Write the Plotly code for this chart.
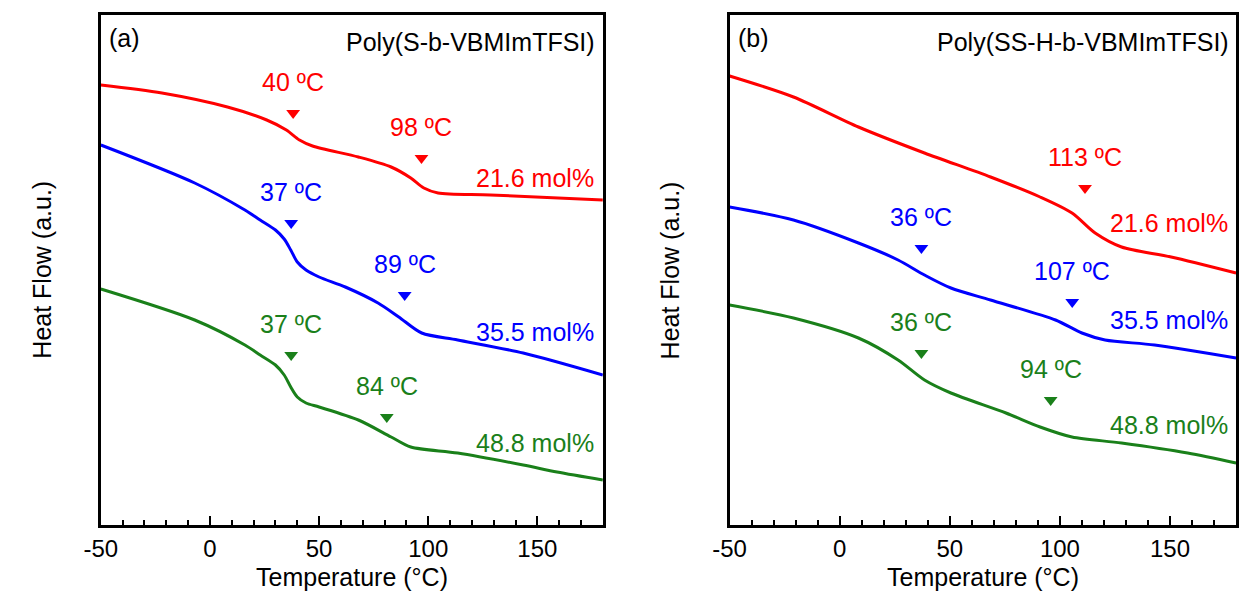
import plotly.graph_objects as go

# ---------------- data (Temperature in °C, heat flow in a.u.) ----------------
# Panel (a) Poly(S-b-VBMImTFSI)
a_red_T = [-50, -22, 8, 26, 35, 41, 47, 68, 83, 92, 98, 104.5, 128.5, 180]
a_red_H = [44.0, 43.2, 41.8, 40.5, 39.5, 38.5, 37.9, 36.8, 35.8, 34.7, 33.7, 33.2, 33.0, 32.5]
a_blue_T = [-50, -7, 16, 23, 30, 34, 37, 40, 44, 50, 62, 77, 86.5, 97, 113.5, 143.5, 180]
a_blue_H = [38.0, 34.2, 31.5, 30.5, 29.5, 28.6, 27.5, 26.3, 25.5, 24.8, 23.8, 22.2, 20.8, 19.2, 18.5, 17.2, 15.0]
a_green_T = [-50, -7, 16, 23, 30, 34, 37, 40, 44, 50, 68, 83, 92, 113.5, 143.5, 159, 180]
a_green_H = [23.6, 20.5, 18.0, 17.0, 16.0, 15.0, 13.8, 12.8, 12.2, 11.8, 10.5, 8.8, 7.8, 7.2, 6.0, 5.3, 4.5]

# Panel (b) Poly(SS-H-b-VBMImTFSI)
b_red_T = [-50, -21, 8.5, 38.5, 68.5, 91, 105.5, 116, 128, 150.5, 180]
b_red_H = [44.9, 42.8, 39.8, 37.2, 34.8, 32.8, 31.2, 29.2, 27.8, 26.8, 25.2]
b_blue_T = [-50, -21, 8.5, 26.5, 38.5, 50.5, 68.5, 98, 110, 120.5, 143, 180]
b_blue_H = [31.8, 30.5, 28.2, 26.5, 25.0, 23.7, 22.5, 20.5, 19.2, 18.5, 18.0, 16.7]
b_green_T = [-50, -21, 8.5, 26.5, 38.5, 50.5, 75.5, 91, 105.5, 128, 158, 180]
b_green_H = [22.0, 20.7, 18.7, 16.5, 14.5, 13.2, 11.2, 9.8, 8.8, 8.2, 7.2, 6.2]

# Transition markers: (position T, heat flow, label)
a_red_tr = [(38.1, 41.2, "40 ºC"), (96.9, 36.7, "98 ºC")]
a_blue_tr = [(37.2, 30.2, "37 ºC"), (89.2, 23.0, "89 ºC")]
a_green_tr = [(37.2, 17.0, "37 ºC"), (81.0, 10.8, "84 ºC")]
b_red_tr = [(111.4, 33.7, "113 ºC")]
b_blue_tr = [(37.1, 27.7, "36 ºC"), (105.6, 22.3, "107 ºC")]
b_green_tr = [(37.1, 17.2, "36 ºC"), (95.8, 12.5, "94 ºC")]

series_labels = ["21.6 mol%", "35.5 mol%", "48.8 mol%"]
a_label_H = [34.7, 19.3, 8.2]
b_label_H = [30.2, 20.5, 10.0]

panel_titles = ["Poly(S-b-VBMImTFSI)", "Poly(SS-H-b-VBMImTFSI)"]
panel_tags = ["(a)", "(b)"]

RED, BLUE, GREEN = "#FF0000", "#0000FF", "#1A801A"
FONT = "Liberation Sans, Arial, sans-serif"
W, H = 1241, 591

fig = go.Figure()

panels = [
    ("x", "y", [(a_red_T, a_red_H, RED, a_red_tr), (a_blue_T, a_blue_H, BLUE, a_blue_tr),
                (a_green_T, a_green_H, GREEN, a_green_tr)], a_label_H, 176.8),
    ("x2", "y2", [(b_red_T, b_red_H, RED, b_red_tr), (b_blue_T, b_blue_H, BLUE, b_blue_tr),
                  (b_green_T, b_green_H, GREEN, b_green_tr)], b_label_H, 177.3),
]

annotations = []
for pi, (xa, ya, curves, lab_H, lab_x) in enumerate(panels):
    for ci, (T, Hf, col, trs) in enumerate(curves):
        fig.add_trace(go.Scatter(x=T, y=Hf, xaxis=xa, yaxis=ya, mode="lines",
                                 line=dict(color=col, width=3, shape="spline", smoothing=0.8),
                                 showlegend=False, hoverinfo="skip"))
        fig.add_trace(go.Scatter(x=[t[0] for t in trs], y=[t[1] for t in trs], xaxis=xa, yaxis=ya,
                                 mode="markers",
                                 marker=dict(symbol="triangle-down", size=12, color=col),
                                 showlegend=False, hoverinfo="skip"))
        for (tx, ty, tl) in trs:
            annotations.append(dict(x=tx, y=ty, xref=xa, yref=ya, text=tl, showarrow=False,
                                    yshift=31, xanchor="center", yanchor="middle",
                                    font=dict(family=FONT, size=25, color=col)))
        annotations.append(dict(x=lab_x, y=lab_H[ci], xref=xa, yref=ya, text=series_labels[ci],
                                showarrow=False, xanchor="right", yanchor="middle",
                                font=dict(family=FONT, size=25, color=col)))
    annotations.append(dict(x=-47, y=48.7, xref=xa, yref=ya, text=panel_tags[pi], showarrow=False,
                            xanchor="left", yanchor="middle",
                            font=dict(family=FONT, size=25, color="black")))
    annotations.append(dict(x=lab_x + 0.5, y=48.3, xref=xa, yref=ya, text=panel_titles[pi],
                            showarrow=False, xanchor="right", yanchor="middle",
                            font=dict(family=FONT, size=25, color="black")))

# axis titles
for cx in (339.5, 979.0):
    annotations.append(dict(x=cx / W, y=1 - 577 / H, xref="paper", yref="paper",
                            text="Temperature (°C)", showarrow=False, xanchor="center",
                            yanchor="middle", font=dict(family=FONT, size=25, color="black")))
for cx in (25.0, 662.5):
    annotations.append(dict(x=cx / W, y=1 - 270 / H, xref="paper", yref="paper",
                            text="Heat Flow (a.u.)", showarrow=False, textangle=-90,
                            xanchor="center", yanchor="middle",
                            font=dict(family=FONT, size=25, color="black")))

xaxis_common = dict(range=[-50, 180], showline=True, linecolor="black", linewidth=2.5, mirror=True,
                    ticks="inside", ticklen=9, tickwidth=2, tickcolor="black",
                    tickvals=[-50, 0, 50, 100, 150], ticktext=["-50", "0", "50", "100", "150"],
                    minor=dict(ticks="inside", ticklen=5, tickwidth=2, tickcolor="black", dtick=10,
                               tick0=-50, showgrid=False),
                    showgrid=False, zeroline=False,
                    tickfont=dict(family=FONT, size=24, color="black"))
yaxis_common = dict(range=[0, 51], showline=True, linecolor="black", linewidth=2.5, mirror=True,
                    ticks="", showticklabels=False, showgrid=False, zeroline=False)

ydom = [1 - 525 / H, 1 - 15 / H]
fig.update_layout(
    width=W, height=H, margin=dict(l=0, r=0, t=0, b=0),
    paper_bgcolor="white", plot_bgcolor="white",
    xaxis=dict(domain=[85 / W, 594 / W], anchor="y", **xaxis_common),
    yaxis=dict(domain=ydom, anchor="x", **yaxis_common),
    xaxis2=dict(domain=[722.5 / W, 1236 / W], anchor="y2", **xaxis_common),
    yaxis2=dict(domain=ydom, anchor="x2", **yaxis_common),
    annotations=annotations,
)

fig.write_html("out.html")
